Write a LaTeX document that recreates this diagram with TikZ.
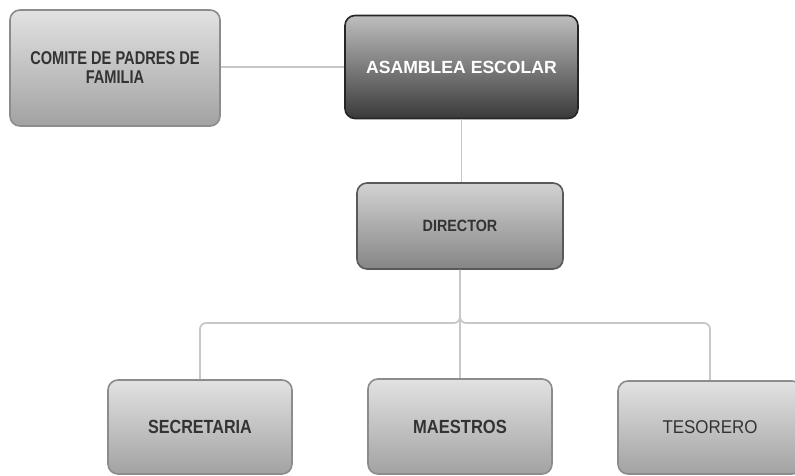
\documentclass[tikz,border=0pt]{standalone}
\usepackage{fontspec}
\usepackage{graphicx}
\setmainfont{Liberation Sans}
\usetikzlibrary{shadings}
\definecolor{txtgray}{HTML}{333333}
\definecolor{linegray}{HTML}{C8C8C8}
\definecolor{bordergray}{HTML}{8C8C8C}
\definecolor{lighttop}{HTML}{E2E2E2}
\definecolor{lightbot}{HTML}{A2A2A2}
\definecolor{darktop}{HTML}{BEBEBE}
\definecolor{darkbot}{HTML}{3A3A3A}
\definecolor{midtop}{HTML}{D2D2D2}
\definecolor{midbot}{HTML}{858585}
\newcommand{\lbl}[3]{\scalebox{#1}[1]{\fontsize{#2}{#2}\selectfont #3}}
\tikzset{
  orgbox/.style={rectangle, rounded corners=10pt, draw=bordergray, line width=1.6pt,
    top color=lighttop, bottom color=lightbot, inner sep=0pt, text=txtgray, align=center},
  topbox/.style={orgbox, draw=black!85, top color=darktop, bottom color=darkbot, text=white},
  dirbox/.style={orgbox, draw=black!65, top color=midtop, bottom color=midbot},
  conn/.style={draw=linegray, line width=1.8pt, rounded corners=6pt}
}
\begin{document}
\begin{tikzpicture}[x=1pt,y=-1pt]
\clip (0,0) rectangle (795,476);
\useasboundingbox (0,0) rectangle (795,476);
\fill[white] (0,0) rectangle (795,476);

\node[orgbox, minimum width=210pt, minimum height=116pt, font=\fontsize{18.5}{19}\selectfont] (comite) at (115,68)
  {\lbl{0.79}{18.5}{\bfseries COMITE DE PADRES DE}\\\lbl{0.79}{18.5}{\bfseries FAMILIA}};
\node[topbox, minimum width=233pt, minimum height=103pt] (asamblea) at (461.5,67)
  {\lbl{1.0}{17.6}{\bfseries ASAMBLEA ESCOLAR}};
\node[dirbox, minimum width=206pt, minimum height=86pt] (director) at (460,226)
  {\lbl{0.88}{16.3}{\bfseries DIRECTOR}};
\node[orgbox, minimum width=184pt, minimum height=94pt] (secretaria) at (200,427)
  {\lbl{0.85}{19}{\bfseries SECRETARIA}};
\node[orgbox, minimum width=184pt, minimum height=95pt] (maestros) at (460,426.5)
  {\lbl{0.87}{19}{\bfseries MAESTROS}};
\node[orgbox, minimum width=184pt, minimum height=93pt] (tesorero) at (710,427.5)
  {\lbl{0.915}{18.5}{TESORERO}};

\coordinate (bus) at (0,323);

\draw[conn] (asamblea.west) -- (asamblea.west -| comite.east);
\draw[conn] (asamblea.south) -- (asamblea.south |- director.north);
\draw[conn] (director.south) -- (director.south |- maestros.north);
\draw[conn] (director.south) -- (director.south |- bus) -| (secretaria.north);
\draw[conn] (director.south) -- (director.south |- bus) -| (tesorero.north);
\end{tikzpicture}
\end{document}
